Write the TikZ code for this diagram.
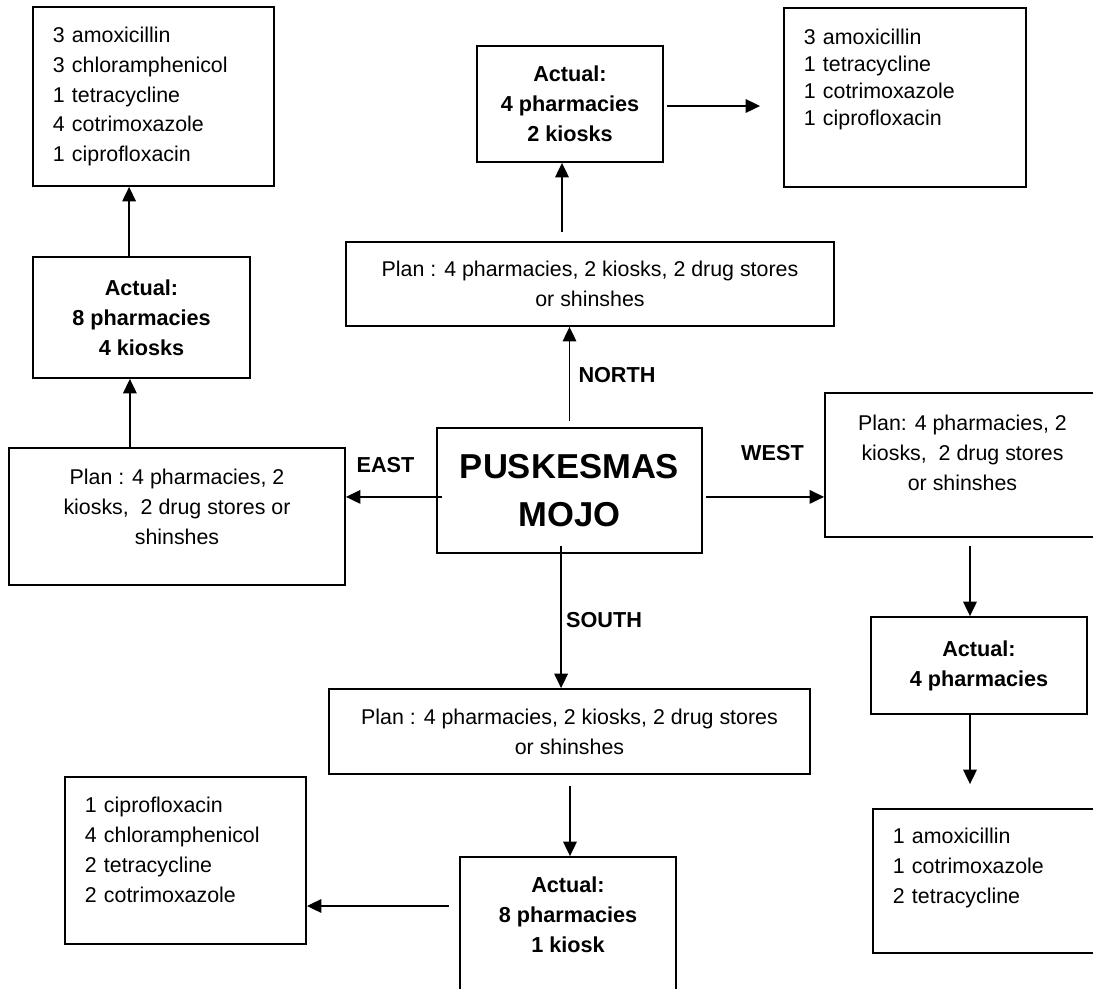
\documentclass[tikz,border=0pt]{standalone}
\usepackage{fontspec}
\setmainfont{Liberation Sans}
\usetikzlibrary{arrows.meta}
\setlength{\parindent}{0pt}
\newcommand{\plainfont}{\fontsize{15.2}{21.3}\selectfont}
\newcommand{\tightfont}{\fontsize{15.2}{19.2}\selectfont}
\newcommand{\boldfont}{\fontsize{15.4}{21.3}\selectfont\bfseries}
\newcommand{\bigfont}{\fontsize{24.6}{34.1}\selectfont\bfseries}
\tikzstyle{block} = [rectangle, draw, line width=1.3pt, align=center, inner sep=0pt, font=\plainfont]
\tikzstyle{actual} = [block, font=\boldfont]
\tikzstyle{listblock} = [rectangle, draw, line width=1.3pt, align=left, inner xsep=0.5cm, inner ysep=0pt, font=\plainfont]
\tikzstyle{dirlabel} = [font=\boldfont]
\tikzstyle{line} = [draw, line width=1pt, -{Triangle[length=0.36cm, width=0.34cm]}]

\begin{document}
\begin{tikzpicture}[x=0.025cm, y=-0.025cm]
\useasboundingbox (0,0) rectangle (1093,988);

% centre
\node [block, font=\bigfont, minimum width=6.625cm, minimum height=3.125cm] at (569.5, 490.5) (mojo) {PUSKESMAS\\MOJO};

% north
\node [block, minimum width=12.2cm, minimum height=2.1cm] at (590, 284) (nplan) {Plan : 4 pharmacies, 2 kiosks, 2 drug stores\\or shinshes};
\node [actual, minimum width=4.65cm, minimum height=2.9cm] at (570, 104) (nact) {Actual:\\4 pharmacies\\2 kiosks};
\node [listblock, font=\tightfont, text width=5.05cm, minimum height=4.475cm] at (905, 97.5) (nelist) {3 amoxicillin\\1 tetracycline\\1 cotrimoxazole\\1 ciprofloxacin\\[0.335cm]\mbox{}};
\node [dirlabel] at (617, 375) (northlbl) {NORTH};
\path [line, shorten <=0.15cm] (mojo.north) to (mojo.north |- nplan.south);
\path [line, shorten <=0.225cm] ([xshift=-0.2cm]nact.south |- nplan.north) to ([xshift=-0.2cm]nact.south);
\path [line, shorten <=0.075cm, shorten >=0.575cm] ([yshift=-0.05cm]nact.east) to ([yshift=-0.05cm]nact.east -| nelist.west);

% east
\node [block, minimum width=8.4cm, minimum height=3.425cm] at (177, 516.5) (eplan) {Plan : 4 pharmacies, 2\\kiosks,~ 2 drug stores or\\shinshes\\[-0.265cm]\mbox{}};
\node [actual, minimum width=5.425cm, minimum height=3.025cm] at (141.5, 317.5) (tlact) {Actual:\\8 pharmacies\\4 kiosks};
\node [listblock, text width=5.025cm, minimum height=4.475cm] at (153.5, 96.5) (tllist) {3 amoxicillin\\3 chloramphenicol\\1 tetracycline\\4 cotrimoxazole\\1 ciprofloxacin};
\node [dirlabel] at (385.5, 465) (eastlbl) {EAST};
\path [line, shorten <=-0.15cm] ([yshift=-0.16cm]mojo.west) to ([yshift=-0.16cm]mojo.west -| eplan.east);
\path [line] ([xshift=-0.29cm]tlact.south |- eplan.north) to ([xshift=-0.29cm]tlact.south);
\path [line] ([xshift=-0.31cm]tlact.north) to ([xshift=-0.31cm]tlact.north |- tllist.south);

% west
\node [block, minimum width=6.875cm, minimum height=3.6cm] at (962.5, 465) (wplan) {Plan: 4 pharmacies, 2\\kiosks,~ 2 drug stores\\or shinshes\\[-0.14cm]\mbox{}};
\node [actual, minimum width=5.4cm, minimum height=2.425cm] at (979, 665.5) (wact) {Actual:\\4 pharmacies};
\node [listblock, text width=4.675cm, minimum height=3.6cm] at (986.5, 881) (wlist) {1 amoxicillin\\1 cotrimoxazole\\2 tetracycline\\ \mbox{}};
\node [dirlabel] at (772.5, 453) (westlbl) {WEST};
\path [line, shorten <=0.075cm] ([yshift=-0.16cm]mojo.east) to ([yshift=-0.16cm]mojo.east -| wplan.west);
\path [line, shorten <=0.2cm] ([xshift=-0.225cm]wact.north |- wplan.south) to ([xshift=-0.225cm]wact.north);
\path [line, shorten >=0.6cm] ([xshift=-0.225cm]wact.south) to ([xshift=-0.225cm]wact.south |- wlist.north);

% south
\node [block, minimum width=12.025cm, minimum height=2.125cm] at (569.5, 731.5) (splan) {Plan : 4 pharmacies, 2 kiosks, 2 drug stores\\or shinshes};
\node [actual, minimum width=5.4cm, minimum height=3.65cm] at (568, 930) (sact) {Actual:\\8 pharmacies\\1 kiosk\\ \mbox{}};
\node [listblock, text width=5.025cm, minimum height=4.175cm] at (185.5, 860.5) (swlist) {1 ciprofloxacin\\4 chloramphenicol\\2 tetracycline\\2 cotrimoxazole\\[-0.19cm]\mbox{}};
\node [dirlabel] at (604, 620) (southlbl) {SOUTH};
\path [line, shorten <=-0.2cm] ([xshift=-0.21cm]mojo.south) to ([xshift=-0.21cm]mojo.south |- splan.north);
\path [line, shorten <=0.275cm] ([xshift=0.05cm]sact.north |- splan.south) to ([xshift=0.05cm]sact.north);
\path [line, shorten <=0.25cm] ([yshift=0.6cm]sact.west) to ([yshift=0.6cm]sact.west -| swlist.east);

\end{tikzpicture}
\end{document}
